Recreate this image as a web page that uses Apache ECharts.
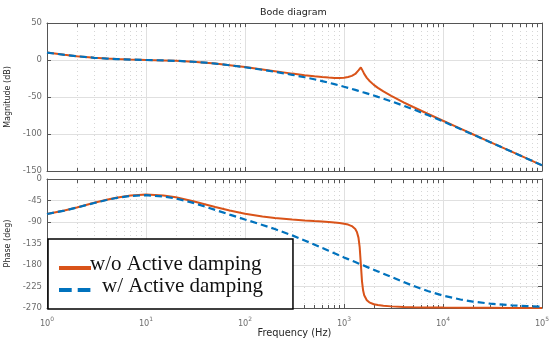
<!DOCTYPE html>
<html>
<head>
<meta charset="utf-8">
<script src="https://cdn.jsdelivr.net/npm/echarts@6/dist/echarts.min.js"></script>
<style>
html, body { margin: 0; padding: 0; background: #fff; }
#bode { width: 549px; height: 340px; }
</style>
</head>
<body>
<div id="bode"></div>
<script>
// values (frequency in Hz)
var freqs = [1, 1.5, 2, 3, 4, 5, 7, 10, 15, 20, 30, 40, 50, 70,
  100, 150, 200, 300, 400, 500, 600, 700, 800, 900,
  1000, 1100, 1200, 1300, 1350, 1400, 1440, 1480, 1520, 1560, 1600, 1700, 1800, 2000, 2200, 2500, 3000, 4000, 5000, 7000,
  10000, 15000, 20000, 30000, 50000, 70000, 100000];

// magnitude (dB)
var magNoAD = [10.0, 7.0, 5.1, 3.0, 1.9, 1.2, 0.6, 0.0, -0.6, -1.1, -2.3, -3.6, -4.8, -7.0,
  -9.6, -12.8, -15.1, -18.4, -20.5, -22.1, -23.1, -23.8, -24.2, -24.2,
  -23.9, -23.0, -21.5, -18.9, -16.9, -14.1, -11.4, -10.0, -12.3, -15.7, -18.7, -24.1, -28.0, -33.6, -37.7, -42.5, -48.5, -57.2, -63.5, -72.6,
  -82.1, -92.8, -100.3, -110.9, -124.2, -133.0, -142.3];
var magAD = [10.0, 7.0, 5.1, 3.0, 1.9, 1.2, 0.6, 0.0, -0.6, -1.1, -2.4, -3.6, -4.9, -7.1,
  -9.8, -13.2, -15.9, -20.0, -23.3, -26.0, -28.5, -30.7, -32.6, -34.4,
  -36.1, -37.6, -39.1, -40.4, -41.1, -41.7, -42.2, -42.6, -43.1, -43.6, -44.0, -45.1, -46.1, -48.0, -49.8, -52.2, -55.8, -61.8, -66.6, -74.4,
  -83.0, -93.2, -100.6, -111.0, -124.3, -133.0, -142.3];

// phase (deg)
var phaseNoAD = [-73.2, -65.9, -59.6, -49.9, -43.4, -39.1, -34.5, -32.7, -34.6, -38.3, -46.4, -53.2, -58.6, -66.1,
  -72.7, -78.5, -81.5, -84.8, -86.7, -88.0, -89.0, -90.0, -91.0, -92.1,
  -93.5, -95.4, -98.5, -104.7, -110.8, -122.7, -142.6, -178.8, -214.2, -233.4, -243.2, -253.8, -258.2, -262.1, -263.9, -265.4, -266.6, -267.7, -268.2, -268.8,
  -269.2, -269.5, -269.6, -269.7, -269.8, -269.9, -269.9];
var phaseAD = [-73.3, -66.1, -59.8, -50.3, -43.9, -39.7, -35.4, -33.9, -36.4, -40.8, -50.0, -58.1, -64.6, -74.5,
  -84.7, -96.2, -104.7, -118.0, -128.5, -137.0, -144.2, -150.2, -155.4, -160.0,
  -164.1, -167.7, -171.0, -173.9, -175.4, -176.7, -177.8, -178.8, -179.8, -180.7, -181.7, -183.9, -186.0, -189.9, -193.4, -198.2, -205.0, -215.6, -223.6, -234.4,
  -244.0, -252.2, -256.5, -261.0, -264.5, -266.1, -267.3];

// axis ticks
var freqTicks = [1, 10, 100, 1000, 10000, 100000];
var freqTickExp = ['0', '1', '2', '3', '4', '5'];
var minorTicks = [2, 3, 4, 5, 6, 7, 8, 9,
  20, 30, 40, 50, 60, 70, 80, 90,
  200, 300, 400, 500, 600, 700, 800, 900,
  2000, 3000, 4000, 5000, 6000, 7000, 8000, 9000,
  20000, 30000, 40000, 50000, 60000, 70000, 80000, 90000];

var nameNoAD = 'w/o Active damping';
var nameAD = 'w/ Active damping';

var orange = '#D95319';
var blue = '#0072BD';
var axisColor = '#555555';
var labelColor = '#6e6e6e';
var gridColor = '#e0e0e0';
var minorColor = '#d6d6d6';
var sans = 'DejaVu Sans';

function pairs(ys) {
  return freqs.map(function (f, i) { return [f, ys[i]]; });
}

function xAxes(gridIndex, withLabels) {
  return [
    {
      type: 'log', logBase: 10, gridIndex: gridIndex, position: 'bottom', min: 1, max: 100000,
      axisLine: { show: true, onZero: false, lineStyle: { color: axisColor } },
      axisTick: { show: true, inside: true, length: 4, customValues: freqTicks, lineStyle: { color: axisColor } },
      axisLabel: {
        show: withLabels, customValues: freqTicks, margin: 8,
        formatter: function (v) {
          var i = freqTicks.findIndex(function (t) { return Math.abs(t - v) < t * 1e-6; });
          return '{b|10}{s|' + freqTickExp[i] + '}';
        },
        rich: {
          b: { fontFamily: sans, fontSize: 8.2, color: labelColor, verticalAlign: 'bottom', lineHeight: 12 },
          s: { fontFamily: sans, fontSize: 6, color: labelColor, verticalAlign: 'top', lineHeight: 6 }
        }
      },
      splitLine: { show: true, lineStyle: { color: gridColor, width: 1 } },
      name: withLabels ? 'Frequency (Hz)' : '', nameLocation: 'middle', nameGap: 19,
      nameTextStyle: { fontFamily: sans, fontSize: 9.8, color: '#262626' }
    },
    {
      type: 'log', logBase: 10, gridIndex: gridIndex, position: 'bottom', min: 1, max: 100000,
      axisLine: { show: false, onZero: false },
      axisTick: { show: true, inside: true, length: 3, customValues: minorTicks, lineStyle: { color: axisColor } },
      axisLabel: { show: false },
      splitLine: { show: true, lineStyle: { color: minorColor, width: 1, type: [1, 3] } }
    },
    {
      type: 'log', logBase: 10, gridIndex: gridIndex, position: 'top', min: 1, max: 100000,
      axisLine: { show: true, onZero: false, lineStyle: { color: axisColor } },
      axisTick: { show: true, inside: true, length: 4, customValues: freqTicks.concat(minorTicks), lineStyle: { color: axisColor } },
      axisLabel: { show: false },
      splitLine: { show: false }
    }
  ];
}

function yAxes(gridIndex, min, max, interval, name) {
  return [
    {
      type: 'value', gridIndex: gridIndex, position: 'left', min: min, max: max, interval: interval,
      axisLine: { show: true, onZero: false, lineStyle: { color: axisColor } },
      axisTick: { show: true, inside: true, length: 4, lineStyle: { color: axisColor } },
      axisLabel: { fontFamily: sans, fontSize: 8.5, color: labelColor, margin: 5 },
      splitLine: { show: true, lineStyle: { color: gridColor, width: 1 } },
      name: name, nameLocation: 'middle', nameGap: 29,
      nameTextStyle: { fontFamily: sans, fontSize: 8, color: '#262626' }
    },
    {
      type: 'value', gridIndex: gridIndex, position: 'right', min: min, max: max, interval: interval,
      axisLine: { show: true, onZero: false, lineStyle: { color: axisColor } },
      axisTick: { show: true, inside: true, length: 4, lineStyle: { color: axisColor } },
      axisLabel: { show: false },
      splitLine: { show: false }
    }
  ];
}

function curve(name, xi, yi, ys, color, width, dash) {
  return {
    name: name, type: 'line', xAxisIndex: xi, yAxisIndex: yi,
    data: pairs(ys), showSymbol: false, symbol: 'none', smooth: false,
    lineStyle: { color: color, width: width, type: dash },
    itemStyle: { color: color }
  };
}

var chart = echarts.init(document.getElementById('bode'));
chart.setOption({
  animation: false,
  backgroundColor: '#fff',
  title: {
    text: 'Bode diagram', left: 260, top: 8, padding: 0,
    textStyle: { fontFamily: sans, fontSize: 9.5, fontWeight: 'normal', color: '#222' }
  },
  grid: [
    { left: 47, top: 23, width: 495, height: 148, containLabel: false, outerBoundsMode: 'none' },
    { left: 47, top: 179, width: 495, height: 129, containLabel: false, outerBoundsMode: 'none' }
  ],
  xAxis: xAxes(0, false).concat(xAxes(1, true)),
  yAxis: yAxes(0, -150, 50, 50, 'Magnitude (dB)').concat(yAxes(1, -270, 0, 45, 'Phase (deg)')),
  legend: {
    orient: 'vertical', left: 48, top: 239,
    padding: [14, 30, 4, 9],
    itemGap: -8, itemWidth: 32, itemHeight: 14,
    backgroundColor: '#fff', borderColor: '#000', borderWidth: 1.5,
    selectedMode: false,
    textStyle: {
      fontFamily: 'Liberation Serif', fontSize: 21, color: '#111', lineHeight: 22,
      padding: [0, 0, 8, -6],
      rich: { g: { width: 12 } }
    },
    formatter: function (name) { return name === nameAD ? '{g| }' + name : name; },
    data: [
      { name: nameNoAD, lineStyle: { width: 4, color: orange, type: 'solid' }, itemStyle: { opacity: 0 } },
      { name: nameAD, lineStyle: { width: 4, color: blue, type: [12.7, 6] }, itemStyle: { opacity: 0 } }
    ]
  },
  series: [
    curve(nameNoAD, 0, 0, magNoAD, orange, 2, 'solid'),
    curve(nameAD, 0, 0, magAD, blue, 2.2, [7, 4]),
    curve(nameNoAD, 3, 2, phaseNoAD, orange, 2, 'solid'),
    curve(nameAD, 3, 2, phaseAD, blue, 2.2, [7, 4])
  ]
});
</script>
</body>
</html>
